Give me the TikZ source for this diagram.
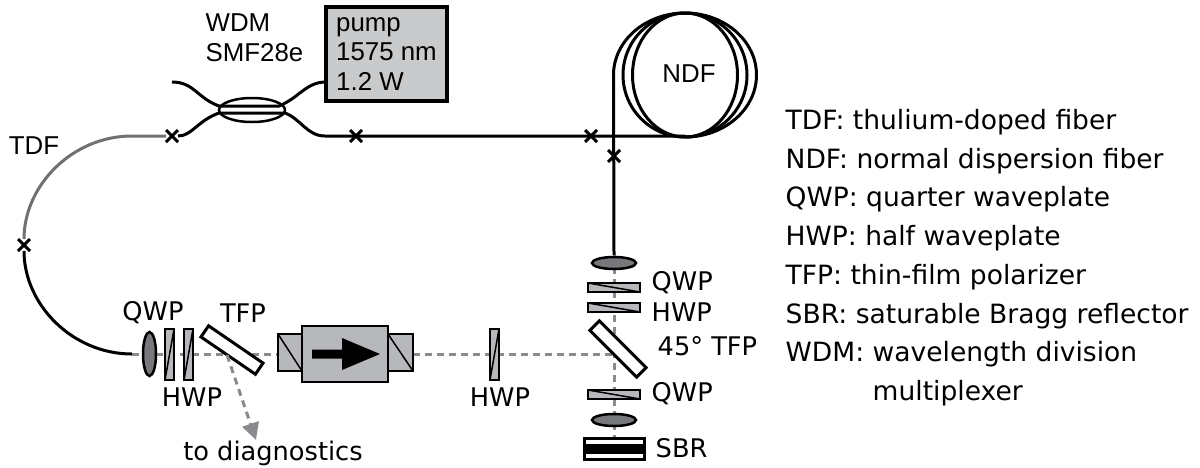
\documentclass[tikz,border=0pt]{standalone}
\usepackage{fontspec}
\setmainfont{DejaVu Sans}
\newfontfamily\arialfont{Liberation Sans}
\usetikzlibrary{arrows.meta,backgrounds,shapes.geometric,shapes.misc}
\definecolor{platefill}{HTML}{B7B8BB}
\definecolor{pumpfill}{HTML}{C9CACC}
\definecolor{lensfill}{HTML}{77787B}
\definecolor{beamgray}{HTML}{8A8B8E}
\definecolor{tdfgray}{HTML}{6F7073}
\tikzset{
  fiber/.style={line width=.3mm,line cap=butt},
  beam/.style={line width=.3mm,beamgray,dash pattern=on .7mm off .5mm},
  splice/.style={cross out,draw,line width=.3mm,minimum size=1.2mm,inner sep=0pt,outer sep=0pt},
  plate/.style={draw,fill=platefill,line width=.25mm,inner sep=0pt,outer sep=0pt},
  lens/.style={ellipse,draw,fill=lensfill,line width=.25mm,inner sep=0pt,outer sep=0pt},
  tfpbox/.style={draw,fill=white,line width=.3mm,inner sep=0pt,outer sep=0pt,minimum width=6.6mm,minimum height=1.35mm},
  lbl/.style={inner sep=0pt,font=\fontsize{7.3}{8}\selectfont},
  legend/.style={inner sep=0pt,anchor=base west,font=\fontsize{7.55}{8}\selectfont},
  arl/.style={inner sep=0pt,font=\arialfont\fontsize{7.35}{8.4}\selectfont},
}
\begin{document}
\begin{tikzpicture}[x=.1mm,y=-.1mm]
  \useasboundingbox (0,0) rectangle (1200,467);
  % pump and coupler
  \node[draw,fill=pumpfill,line width=.35mm,minimum width=12.1mm,minimum height=9.4mm,align=left,inner sep=0pt,font=\arialfont\fontsize{7.35}{8.3}\selectfont] (pump) at (386.5,54) {pump\\1575 nm\\1.2 W};
  \node[arl,align=left,anchor=north west] (smf) at (205,13) {WDM\\SMF28e};
  \node[ellipse,draw,line width=.25mm,minimum width=6.6mm,minimum height=2.4mm,inner sep=0pt] (wdm) at (252,110) {};
  \coordinate (fa) at (172,82);
  \coordinate (pumpin) at (326,82);
  \coordinate (wul) at (219,106);
  \coordinate (wur) at (279,106);
  \coordinate (wll) at (219,113);
  \coordinate (wlr) at (285,113);
  \coordinate (fb) at (325,136);
  \coordinate (tdfa) at (132,136);
  \coordinate (fibend) at (132,354);
  \coordinate (ndfend) at (685,136);
  \coordinate (ndfl) at (613.5,75);
  \coordinate (colend) at (614,255);
  % splices
  \node[splice] (spa) at (172,136) {};
  \node[splice] (spb) at (356,136) {};
  \node[splice] (spc) at (591,136) {};
  \node[splice] (spd) at (614,156) {};
  \node[splice] (spe) at (24,245) {};
  % fibers
  \draw[fiber] (fa) .. controls +(22,0) and +(-22,-8) .. (wul) -- (wur) .. controls +(20,-8) and +(-20,0) .. (pumpin);
  \draw[fiber] (spa) .. controls +(20,0) and +(-22,8) .. (wll) -- (wlr) .. controls +(16,6) and +(-18,0) .. (fb) -- (ndfend);
  \draw[fiber,tdfgray] (spa) -- (tdfa) .. controls +(-59.6,0) and +(0,-59.6) .. (spe);
  \draw[fiber] (spe) .. controls +(0,59.6) and +(-59.6,0) .. (fibend);
  \draw[fiber] (ndfl) -- (colend);
  % coil
  \node[arl] (ndf) at (689,74) {NDF};
  \draw[fiber] (685,75) ellipse (52.5 and 62);
  \draw[fiber] (685,75) ellipse (62 and 62);
  \draw[fiber] (ndfl) arc[start angle=180,end angle=450,x radius=71.5,y radius=62];
  % left arm
  \node[lens,minimum width=1.3mm,minimum height=4.4mm] (lensa) at (149.5,354) {};
  \node[plate,minimum width=.9mm,minimum height=5.1mm] (qwpa) at (169.5,354.5) {};
  \node[plate,minimum width=.9mm,minimum height=5.1mm] (hwpa) at (188.5,354.5) {};
  \node[tfpbox,rotate=-34.4] (tfpa) at (232,350) {};
  \node[plate,minimum width=2.4mm,minimum height=3.7mm] (isola) at (290,352.5) {};
  \node[plate,minimum width=2.5mm,minimum height=3.7mm] (isolb) at (400.5,352.5) {};
  \node[plate,minimum width=8.6mm,minimum height=5.6mm] (isol) at (345,354) {};
  \fill (isol.center) ++(-33,-4.5) -- ++(30,0) -- ++(0,-11.5) -- ++(38,16) -- ++(-38,16) -- ++(0,-11.5) -- ++(-30,0) -- cycle;
  \node[plate,minimum width=.9mm,minimum height=5.1mm] (hwpb) at (494.5,354.5) {};
  % right arm
  \node[lens,minimum width=4.4mm,minimum height=1.2mm] (lensb) at (614,263) {};
  \node[plate,minimum width=5.2mm,minimum height=.9mm] (qwpb) at (614,287.5) {};
  \node[plate,minimum width=5.2mm,minimum height=.9mm] (hwpc) at (614,307.5) {};
  \node[tfpbox,rotate=-45] (tfpb) at (618,349) {};
  \node[plate,minimum width=5.2mm,minimum height=.9mm] (qwpc) at (614,394.5) {};
  \node[lens,minimum width=4.4mm,minimum height=1.2mm] (lensc) at (614,420) {};
  \node[draw,fill=white,line width=.3mm,minimum width=6mm,minimum height=2.1mm,inner sep=0pt,outer sep=0pt] (sbr) at (614,448.5) {};
  \fill (sbr.west) ++(0,-5) rectangle ++(60,10);
  % waveplate marks
  \foreach \n in {qwpa,hwpa,hwpb} \draw[line width=.15mm] (\n.south west) -- (\n.north east);
  \foreach \n in {qwpb,hwpc,qwpc,isola,isolb} \draw[line width=.15mm] (\n.north west) -- (\n.south east);
  % beams
  \coordinate (beamturn) at (614,354);
  \coordinate (diagout) at (227,355);
  \coordinate (diagtip) at (256,440);
  \begin{scope}[on background layer]
    \draw[beam] (fibend) -- (isola.west |- fibend);
    \draw[beam] (isolb.east |- beamturn) -- (beamturn);
    \draw[beam] (colend) -- (sbr.north);
  \end{scope}
  \draw[beam,-{Stealth[length=1.7mm,width=1.7mm,inset=0pt]}] (diagout) -- (diagtip);
  % labels
  \node[arl] (tdf) at (34,146) {TDF};
  \node[lbl] (lqwpa) at (153,313) {QWP};
  \node[lbl] (ltfpa) at (243,313) {TFP};
  \node[lbl] (lhwpa) at (192,397) {HWP};
  \node[lbl,anchor=base] (ldiag) at (273,460) {to diagnostics};
  \node[lbl] (lhwpb) at (500,397) {HWP};
  \node[lbl,anchor=west] (lqwpb) at (651,283) {QWP};
  \node[lbl,anchor=west] (lhwpc) at (651,312) {HWP};
  \node[lbl,anchor=west] (ltfpb) at (657,346) {45° TFP};
  \node[lbl,anchor=west] (lqwpc) at (651,394) {QWP};
  \node[lbl,anchor=west] (lsbr) at (655,448) {SBR};
  % legend
  \foreach \t [count=\i from 0] in {TDF: thulium-doped fiber,NDF: normal dispersion fiber,QWP: quarter waveplate,HWP: half waveplate,TFP: thin-film polarizer,SBR: saturable Bragg reflector,WDM: wavelength division}
    \node[legend] (leg\i) at (785,129.5+38.7*\i) {\t};
  \node[legend] (leg7) at (872,400) {multiplexer};
\end{tikzpicture}
\end{document}
